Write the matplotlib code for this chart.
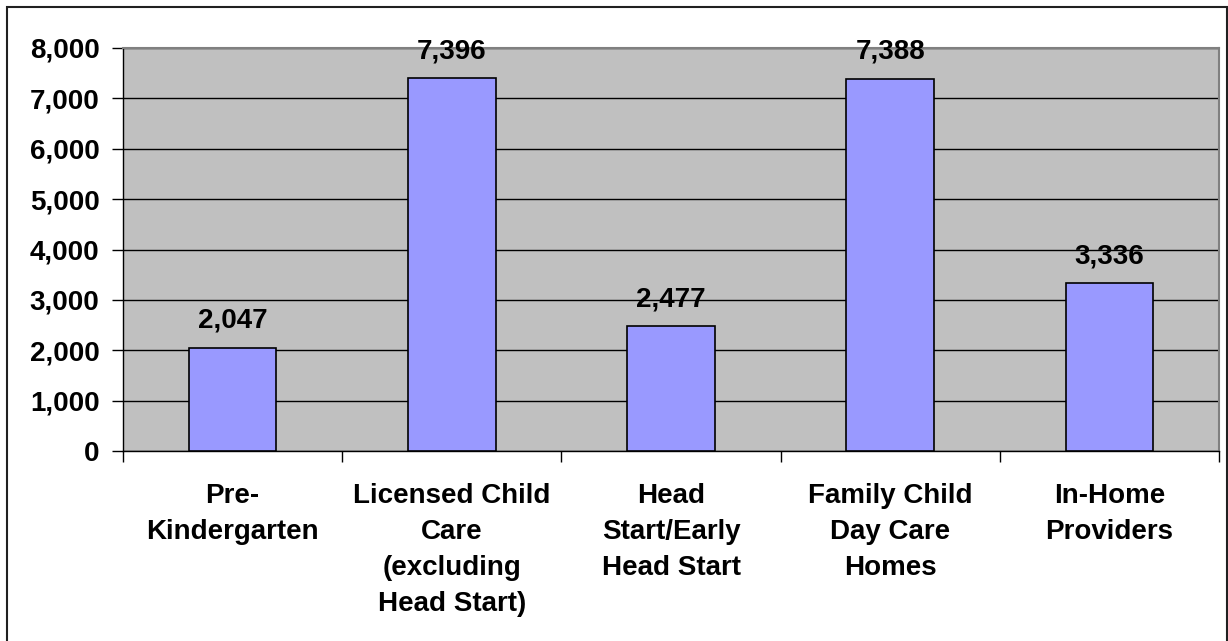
import matplotlib.pyplot as plt
import matplotlib.ticker as mticker
from matplotlib.patches import Rectangle
import numpy as np

categories = ['Pre-\nKindergarten', 'Licensed Child\nCare\n(excluding\nHead Start)',
              'Head\nStart/Early\nHead Start', 'Family Child\nDay Care\nHomes',
              'In-Home\nProviders']
values = [2047, 7396, 2477, 7388, 3336]

plt.rcParams['font.family'] = ['Liberation Sans', 'DejaVu Sans']
plt.rcParams['font.weight'] = 'bold'

fig = plt.figure(figsize=(12.28, 6.41), dpi=100)
ax = fig.add_axes([123/1228, 1 - 451/641, (1219-123)/1228, (451-48)/641])

x = np.arange(len(categories))
bars = ax.bar(x, values, width=0.4, color='#9999FF', edgecolor='black',
              linewidth=1.2, zorder=3)

ax.set_facecolor('#C0C0C0')
ax.set_xlim(-0.5, 4.5)
ax.set_ylim(0, 8000)
ax.yaxis.set_major_locator(mticker.MultipleLocator(1000))
ax.yaxis.set_major_formatter(mticker.StrMethodFormatter('{x:,.0f}'))
ax.grid(axis='y', color='black', linewidth=1, zorder=1)
ax.set_axisbelow(True)

ax.set_xticks(x)
ax.set_xticklabels(categories, fontsize=20, fontweight='bold', linespacing=1.5,
                   va='top')
ax.tick_params(axis='x', which='major', length=0, pad=23)
ax.set_xticks(np.arange(-0.5, 5, 1), minor=True)
ax.tick_params(axis='x', which='minor', length=8, width=1, direction='out')
ax.tick_params(axis='y', length=8, width=1, direction='out', pad=9, labelsize=20)
for lab in ax.get_yticklabels():
    lab.set_fontweight('bold')

ax.spines['top'].set_color('#808080')
ax.spines['right'].set_color('#808080')
ax.spines['top'].set_linewidth(1.5)
ax.spines['right'].set_linewidth(1.5)
ax.spines['left'].set_linewidth(1)
ax.spines['bottom'].set_linewidth(1)

ax.bar_label(bars, labels=[f'{v:,}' for v in values], padding=10,
             fontsize=20, fontweight='bold')

# outer chart border
fig.patches.append(Rectangle((7/1228, -0.05), (1227-7)/1228, 1 - 7/641 + 0.05,
                             transform=fig.transFigure, fill=False,
                             edgecolor='#202020', linewidth=1.5))

fig.savefig('out.png', dpi=100)
